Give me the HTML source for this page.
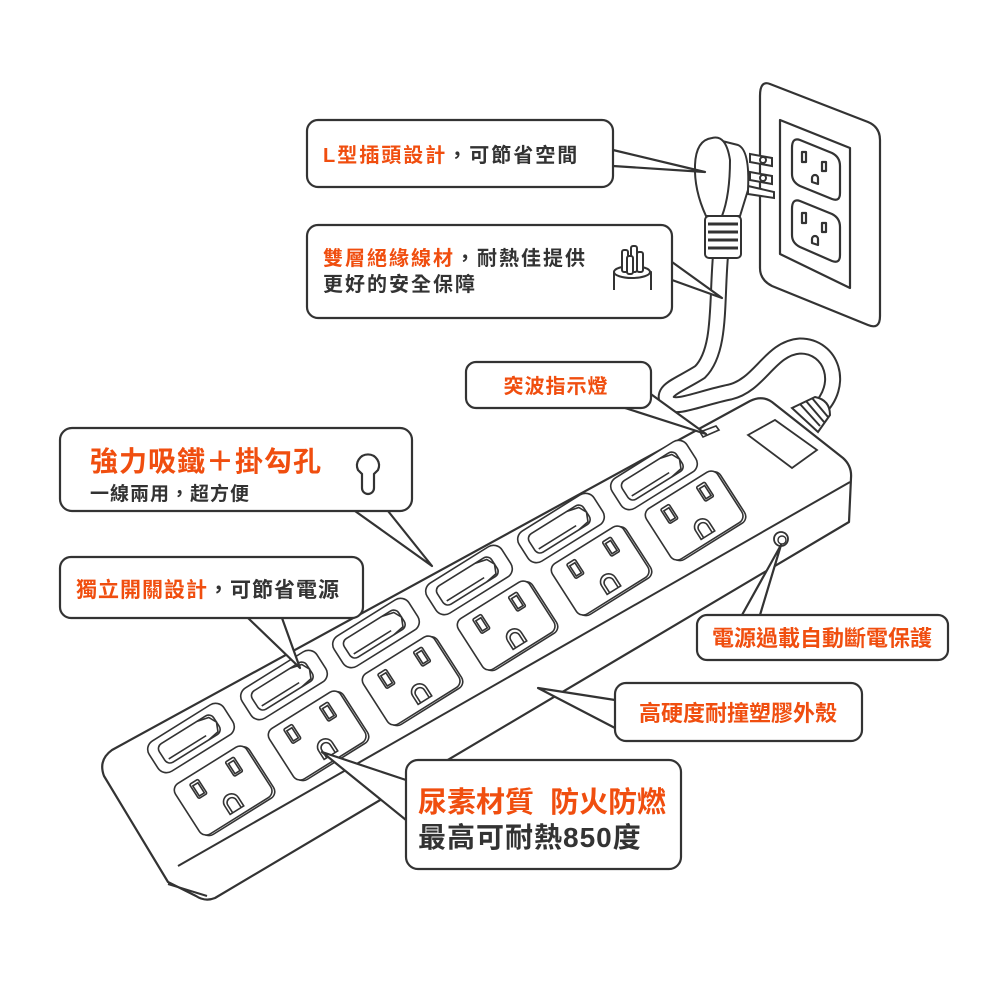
<!DOCTYPE html>
<html><head><meta charset="utf-8"><style>
html,body{margin:0;padding:0;background:#fff;}
svg{display:block}
text{font-family:"Liberation Sans","Noto Sans CJK TC",sans-serif;font-weight:bold;}
.o{fill:#f04e0f}.k{fill:#333}
</style></head><body>
<svg width="1000" height="1000" viewBox="0 0 1000 1000" xmlns="http://www.w3.org/2000/svg">
<defs>
<g id="sock" fill="#fff" stroke="#333" stroke-width="1.6">
<rect x="-41" y="-28" width="84" height="60" rx="8"/>
<rect x="-43" y="-30" width="84" height="60" rx="8"/>
<rect x="-26" y="-23" width="10" height="17" rx="1.5"/><rect x="-24" y="-20" width="6" height="12"/>
<rect x="16" y="-23" width="10" height="17" rx="1.5"/><rect x="18" y="-20" width="6" height="12"/>
<path d="M-8,24 L-8,14 A8,8 0 0 1 8,14 L8,24 Z"/><path d="M-5,24 L-5,15 A5,5 0 0 1 5,15 L5,24" fill="none"/>
</g>
<g id="sw" fill="#fff" stroke="#333" stroke-width="1.6">
<rect x="-44" y="-18" width="88" height="36" rx="10"/>
<rect x="-34" y="-11" width="64" height="22" rx="6"/>
<path d="M14,-11 L26,-8 L30,0 L26,9 L14,11" fill="none"/>
<path d="M-30,6 L14,6" fill="none"/>
</g>
</defs>

<g fill="#fff" stroke="#333" stroke-width="2.2" stroke-linejoin="round">
<path d="M770,84 L868,122 Q880,127 880,140 L880,316 Q880,330 868,325 L772,286 Q760,280 760,268 L760,96 Q760,80 770,84 Z"/>
<path d="M780,120 L850,148 L850,288 L780,254 Z"/>
<path d="M800,140 L832,153 Q840,157 840,166 L840,193 Q840,202 832,199 L800,186 Q792,182 792,174 L792,148 Q792,137 800,140 Z"/>
<path d="M800,201 L832,214 Q840,218 840,227 L840,255 Q840,264 832,261 L800,247 Q792,243 792,235 L792,209 Q792,198 800,201 Z"/>
<rect x="802" y="152" width="4" height="10"/><rect x="822" y="162" width="4" height="9"/><path d="M812,182 l0,-4 a3,3 0 0 1 6,0 l0,6 z"/>
<rect x="802" y="213" width="4" height="10"/><rect x="822" y="223" width="4" height="9"/><path d="M812,243 l0,-4 a3,3 0 0 1 6,0 l0,6 z"/>
</g>

<path d="M721,250 C716,300 722,350 700,372 C680,385 660,390 668,402 C676,410 700,398 730,392 C760,385 770,348 800,346 C832,346 845,385 818,410" fill="none" stroke="#333" stroke-width="17" stroke-linecap="round"/>
<path d="M721,250 C716,300 722,350 700,372 C680,385 660,390 668,402 C676,410 700,398 730,392 C760,385 770,348 800,346 C832,346 845,385 818,410" fill="none" stroke="#fff" stroke-width="13" stroke-linecap="round"/>

<g fill="#fff" stroke="#333" stroke-width="2">
<path d="M750,154 L772,158 L772,166 L750,162 Z"/><circle cx="763" cy="160" r="3"/>
<path d="M750,172 L772,176 L772,184 L750,180 Z"/><circle cx="763" cy="178" r="3"/>
<path d="M748,186 L774,192 L774,198 L748,194 Z"/>
<path d="M722,141 L738,145 Q750,150 748,190 L740,216 L718,216 Z"/>
<path d="M712,138 Q726,134 730,160 Q730,195 722,216 L706,216 Q694,190 695,165 Q696,140 712,138 Z"/>
<rect x="705" y="216" width="36" height="42" rx="4"/>
<path d="M708,224 H738 M708,232 H738 M708,240 H738 M708,248 H738" stroke-width="3"/>
</g>

<g fill="#fff" stroke="#333" stroke-width="2.2" stroke-linejoin="round">
<path d="M112,750 L750,401 Q762,395 772,402 L843,458 Q852,466 851,478 L849,522 L215,898 Q205,902 196,896 L168,882 L104,776 Q98,760 112,750 Z"/>
</g>
<path d="M178,866 L850,482" stroke="#333" stroke-width="2" fill="none"/>
<path d="M168,884 L207,896" stroke="#333" stroke-width="2" fill="none"/>
<g fill="#fff" stroke="#333" stroke-width="2">
<path d="M792,408 L815,397 Q830,400 830,415 L818,432 Z"/>
<path d="M800,404 L820,426 M806,401 L824,422 M812,398 L828,417" />
</g>
<path d="M700,432 L716,426 L719,430 L703,437 Z" fill="#fff" stroke="#333" stroke-width="1.6"/>
<path d="M748,435 L775,420 L817,450 L792,468 Z" fill="#fff" stroke="#333" stroke-width="1.8"/>
<circle cx="781" cy="539" r="7" fill="#fff" stroke="#333" stroke-width="1.8"/><circle cx="782" cy="540" r="4" fill="#fff" stroke="#333" stroke-width="1.4"/>

<use href="#sw" transform="matrix(0.85,-0.53,0.54,0.84,191,738)"/>
<use href="#sw" transform="matrix(0.85,-0.53,0.54,0.84,284,685)"/>
<use href="#sw" transform="matrix(0.85,-0.53,0.54,0.84,376,633)"/>
<use href="#sw" transform="matrix(0.85,-0.53,0.54,0.84,469,580)"/>
<use href="#sw" transform="matrix(0.85,-0.53,0.54,0.84,561,528)"/>
<use href="#sw" transform="matrix(0.85,-0.53,0.54,0.84,654,475)"/>
<use href="#sock" transform="matrix(0.85,-0.53,0.54,0.84,224,790)"/>
<use href="#sock" transform="matrix(0.85,-0.53,0.54,0.84,318,735)"/>
<use href="#sock" transform="matrix(0.85,-0.53,0.54,0.84,412,680)"/>
<use href="#sock" transform="matrix(0.85,-0.53,0.54,0.84,507,625)"/>
<use href="#sock" transform="matrix(0.85,-0.53,0.54,0.84,601,570)"/>
<use href="#sock" transform="matrix(0.85,-0.53,0.54,0.84,695,515)"/>

<g fill="#fff" stroke="#333" stroke-width="2.2" stroke-linejoin="round">
<path d="M613,150 L705,172 L613,166"/>
<rect x="307" y="120" width="306" height="67" rx="11"/>
<path d="M672,262 L722,298 L672,280"/>
<rect x="307" y="225" width="365" height="93" rx="11"/>
<path d="M625,408 L706,434 L648,392"/>
<rect x="466" y="362" width="185" height="46" rx="10"/>
<path d="M355,511 L432,566 L388,511"/>
<rect x="60" y="428" width="352" height="83" rx="12"/>
<path d="M248,618 L300,668 L282,618"/>
<rect x="60" y="557" width="303" height="61" rx="11"/>
<path d="M742,615 L781,545 L760,615"/>
<rect x="697" y="615" width="251" height="45" rx="10"/>
<path d="M615,700 L538,688 L615,728"/>
<rect x="615" y="683" width="247" height="58" rx="11"/>
<path d="M406,780 L322,752 L406,820"/>
<rect x="406" y="760" width="275" height="109" rx="12"/>
</g>
<g fill="#fff" stroke="#333" stroke-width="2">
<path d="M614,290 L614,272 Q632,264 651,272 L651,290"/>
<ellipse cx="632" cy="272" rx="18" ry="6"/>
<rect x="622" y="250" width="6" height="22" rx="2"/><rect x="631" y="246" width="6" height="26" rx="2"/><rect x="637" y="252" width="6" height="20" rx="2"/><rect x="627" y="256" width="6" height="18" rx="2"/>
<path d="M358,470 A11,11 0 1 1 378,470 L374,474 L374,488 A5,5 0 0 1 362,488 L362,474 Z" stroke-width="2.2"/>
</g>
<text x="323" y="162" font-size="20" letter-spacing="2"><tspan class="o">L型插頭設計</tspan><tspan class="k">，可節省空間</tspan></text>
<text x="323" y="265" font-size="20" letter-spacing="2" class="o">雙層絕緣線材<tspan class="k">，耐熱佳提供</tspan></text>
<text x="323" y="291" font-size="20" letter-spacing="2" class="k">更好的安全保障</text>
<text x="556" y="393" font-size="20" letter-spacing="1" class="o" text-anchor="middle">突波指示燈</text>
<text x="90" y="471" font-size="28" letter-spacing="1" class="o">強力吸鐵＋掛勾孔</text>
<text x="90" y="500" font-size="19" letter-spacing="1" class="k">一線兩用，超方便</text>
<text x="76" y="597" font-size="21" letter-spacing="1"><tspan class="o">獨立開關設計</tspan><tspan class="k">，可節省電源</tspan></text>
<text x="822" y="646" font-size="22" class="o" text-anchor="middle">電源過載自動斷電保護</text>
<text x="738" y="721" font-size="22" class="o" text-anchor="middle">高硬度耐撞塑膠外殼</text>
<text x="418" y="812" font-size="29" class="o" xml:space="preserve">尿素材質  防火防燃</text>
<text x="418" y="847" font-size="28" letter-spacing="1" class="k">最高可耐熱850度</text>
</svg>
</body></html>
